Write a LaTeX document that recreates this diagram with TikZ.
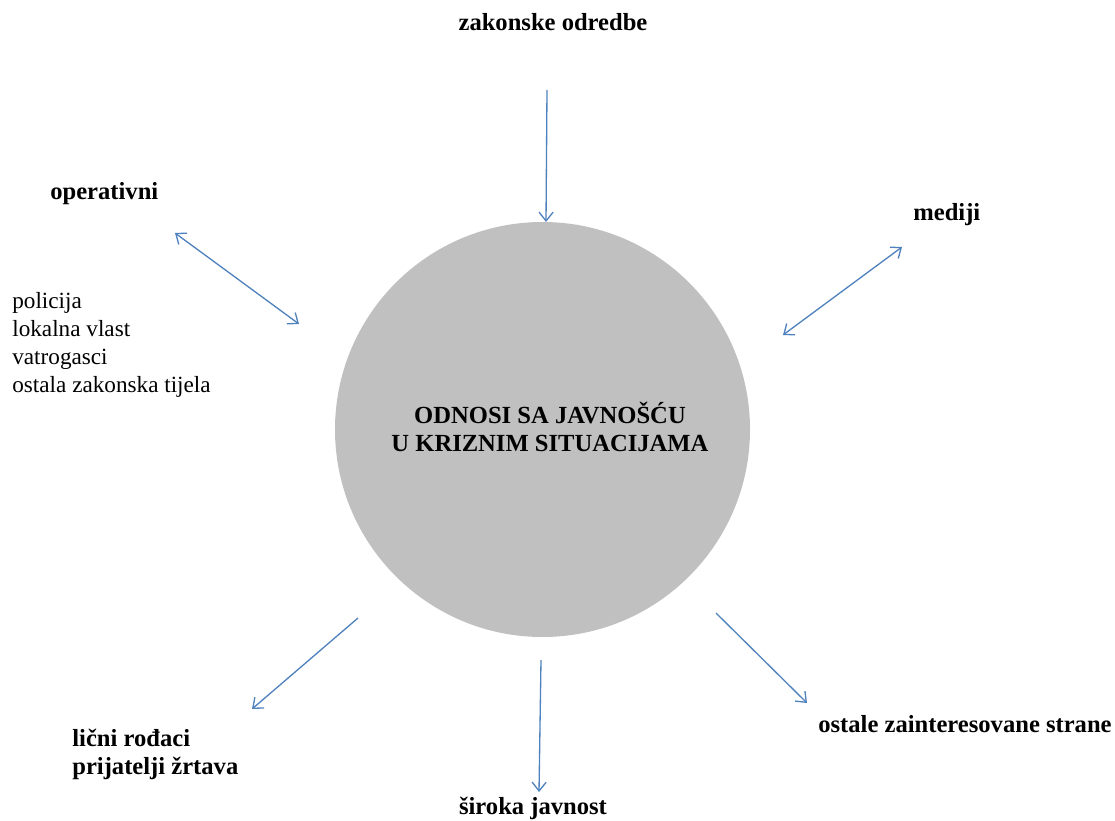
\documentclass[tikz,border=0pt]{standalone}
\usepackage{fontspec}
\setmainfont{Liberation Serif}
\usetikzlibrary{arrows.meta}
\definecolor{arrowblue}{HTML}{4F81BD}
\definecolor{circgray}{HTML}{C0C0C0}
\tikzset{
  txt/.style={inner sep=0pt, font=\fontsize{13.2pt}{15.9pt}\selectfont},
  btxt/.style={txt, font=\fontsize{14pt}{15.9pt}\selectfont\bfseries},
  conn/.style={draw=arrowblue, line width=0.75pt, -{Straight Barb[length=5pt,width=8pt]}},
  dconn/.style={draw=arrowblue, line width=0.75pt, {Straight Barb[length=5pt,width=8pt]}-{Straight Barb[length=5pt,width=8pt]}}
}
\begin{document}
\begin{tikzpicture}[x=0.02cm,y=-0.02cm]
\useasboundingbox (0,0) rectangle (1115,821);
\node[circle, fill=circgray, minimum size=415*0.02cm, inner sep=0pt] (c) at (542.5,429.5) {};
\node[btxt, align=center] (title) at (550,427) {ODNOSI SA JAVNOŠĆU\\U KRIZNIM SITUACIJAMA};
\node[btxt, anchor=base] (zak) at (553,31) {zakonske odredbe};
\node[btxt, anchor=base west] (oper) at (50,199) {operativni};
\node[btxt, anchor=base west] (med) at (913,220) {mediji};
\node[txt, anchor=north west, align=left] (list) at (12,292) {policija\\lokalna vlast\\vatrogasci\\ostala zakonska tijela};
\node[btxt, anchor=north west, align=left] (rod) at (72,729) {lični rođaci\\prijatelji žrtava};
\node[btxt, anchor=base] (sir) at (533,814) {široka javnost};
\node[btxt, anchor=base west] (ost) at (818,732) {ostale zainteresovane strane};
% arrow endpoints
\coordinate (a1s) at (547,90);   \coordinate (a1e) at (546,222);
\coordinate (a2s) at (175,233);  \coordinate (a2e) at (299,324);
\coordinate (a3s) at (902,247);  \coordinate (a3e) at (783,335);
\coordinate (a4s) at (358,618);  \coordinate (a4e) at (252,709);
\coordinate (a5s) at (541,660);  \coordinate (a5e) at (539,792);
\coordinate (a6s) at (716,613);  \coordinate (a6e) at (807,703);
\draw[conn] (a1s) -- (a1e);
\draw[dconn] (a2s) -- (a2e);
\draw[dconn] (a3s) -- (a3e);
\draw[conn] (a4s) -- (a4e);
\draw[conn] (a5s) -- (a5e);
\draw[conn] (a6s) -- (a6e);
\end{tikzpicture}
\end{document}
